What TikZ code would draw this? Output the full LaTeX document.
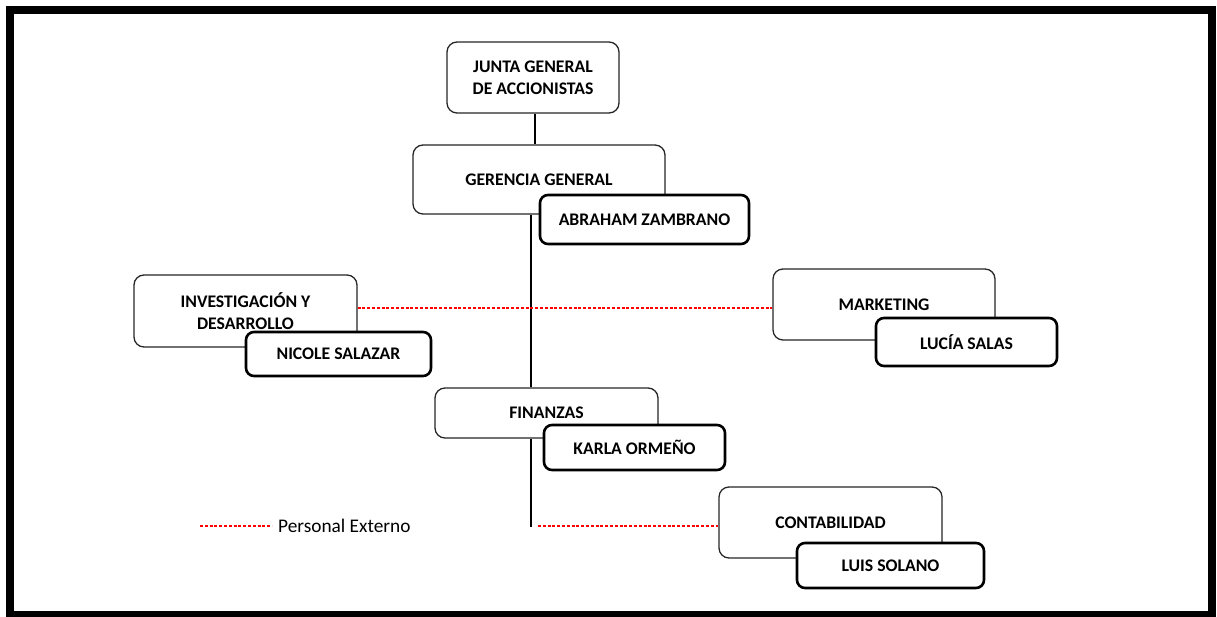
\documentclass[tikz,border=0pt]{standalone}
\usepackage{fontspec}
\setmainfont{Carlito}
\begin{document}
\begin{tikzpicture}[x=1pt,y=-1pt,
  dept/.style={draw=black!85, line width=1.3pt, rounded corners=10pt, fill=white,
    align=center, inner sep=0pt, font=\fontsize{17.7}{22}\selectfont\bfseries},
  person/.style={draw=black, line width=2.6pt, rounded corners=8pt, fill=white,
    align=center, inner sep=0pt, font=\fontsize{17.7}{22}\selectfont\bfseries},
  link/.style={draw=black, line width=1.2pt},
  ext/.style={draw=red, line width=1.1pt, dash pattern=on 3pt off 1.8pt}]
\useasboundingbox (0,0) rectangle (1217,617);
% outer frame
\draw[line width=8pt] (10,10) rectangle (1212,615);

% reference points for the connectors
\coordinate (spine) at (531,527);
\coordinate (rl) at (0,308);
\coordinate (ce) at (538,526);
\coordinate (lg) at (200,526);

% departments
\node[dept, minimum width=172pt, minimum height=71pt] (junta) at (533,77.5) {JUNTA GENERAL\\DE ACCIONISTAS};
\node[dept, minimum width=252pt, minimum height=69pt] (ger) at (539,179.5) {GERENCIA GENERAL};
\node[dept, minimum width=223pt, minimum height=72pt] (inv) at (245.5,311) {INVESTIGACIÓN Y\\DESARROLLO};
\node[dept, minimum width=222pt, minimum height=71pt] (mkt) at (884,304.5) {MARKETING};
\node[dept, minimum width=223pt, minimum height=50pt] (fin) at (546.5,413) {FINANZAS};
\node[dept, minimum width=223pt, minimum height=71pt] (cont) at (830.5,522.5) {CONTABILIDAD};

% connectors
\draw[link] (junta.south) ++(2,0) coordinate (js) -- (js |- ger.north);
\draw[link] (ger.south -| spine) -- (fin.north -| spine);
\draw[link] (fin.south -| spine) -- (spine);
\draw[ext] (inv.east |- rl) -- (mkt.west |- rl);
\draw[ext] (ce) -- (ce -| cont.west);

% people in charge
\node[person, minimum width=209pt, minimum height=49pt] (abraham) at (644.5,219.5) {ABRAHAM ZAMBRANO};
\node[person, minimum width=185pt, minimum height=44pt] (nicole) at (338.5,354) {NICOLE SALAZAR};
\node[person, minimum width=181pt, minimum height=48pt] (lucia) at (966.5,342) {LUCÍA SALAS};
\node[person, minimum width=181pt, minimum height=45pt] (karla) at (634.5,447.5) {KARLA ORMEÑO};
\node[person, minimum width=187pt, minimum height=45pt] (luis) at (890.5,565.5) {LUIS SOLANO};

% legend
\node[anchor=west, inner sep=0pt, font=\fontsize{19.3}{22}\selectfont] (legtxt) at (278,526) {Personal Externo};
\draw[ext] (lg) -- ([xshift=-6pt]legtxt.west);
\end{tikzpicture}
\end{document}
